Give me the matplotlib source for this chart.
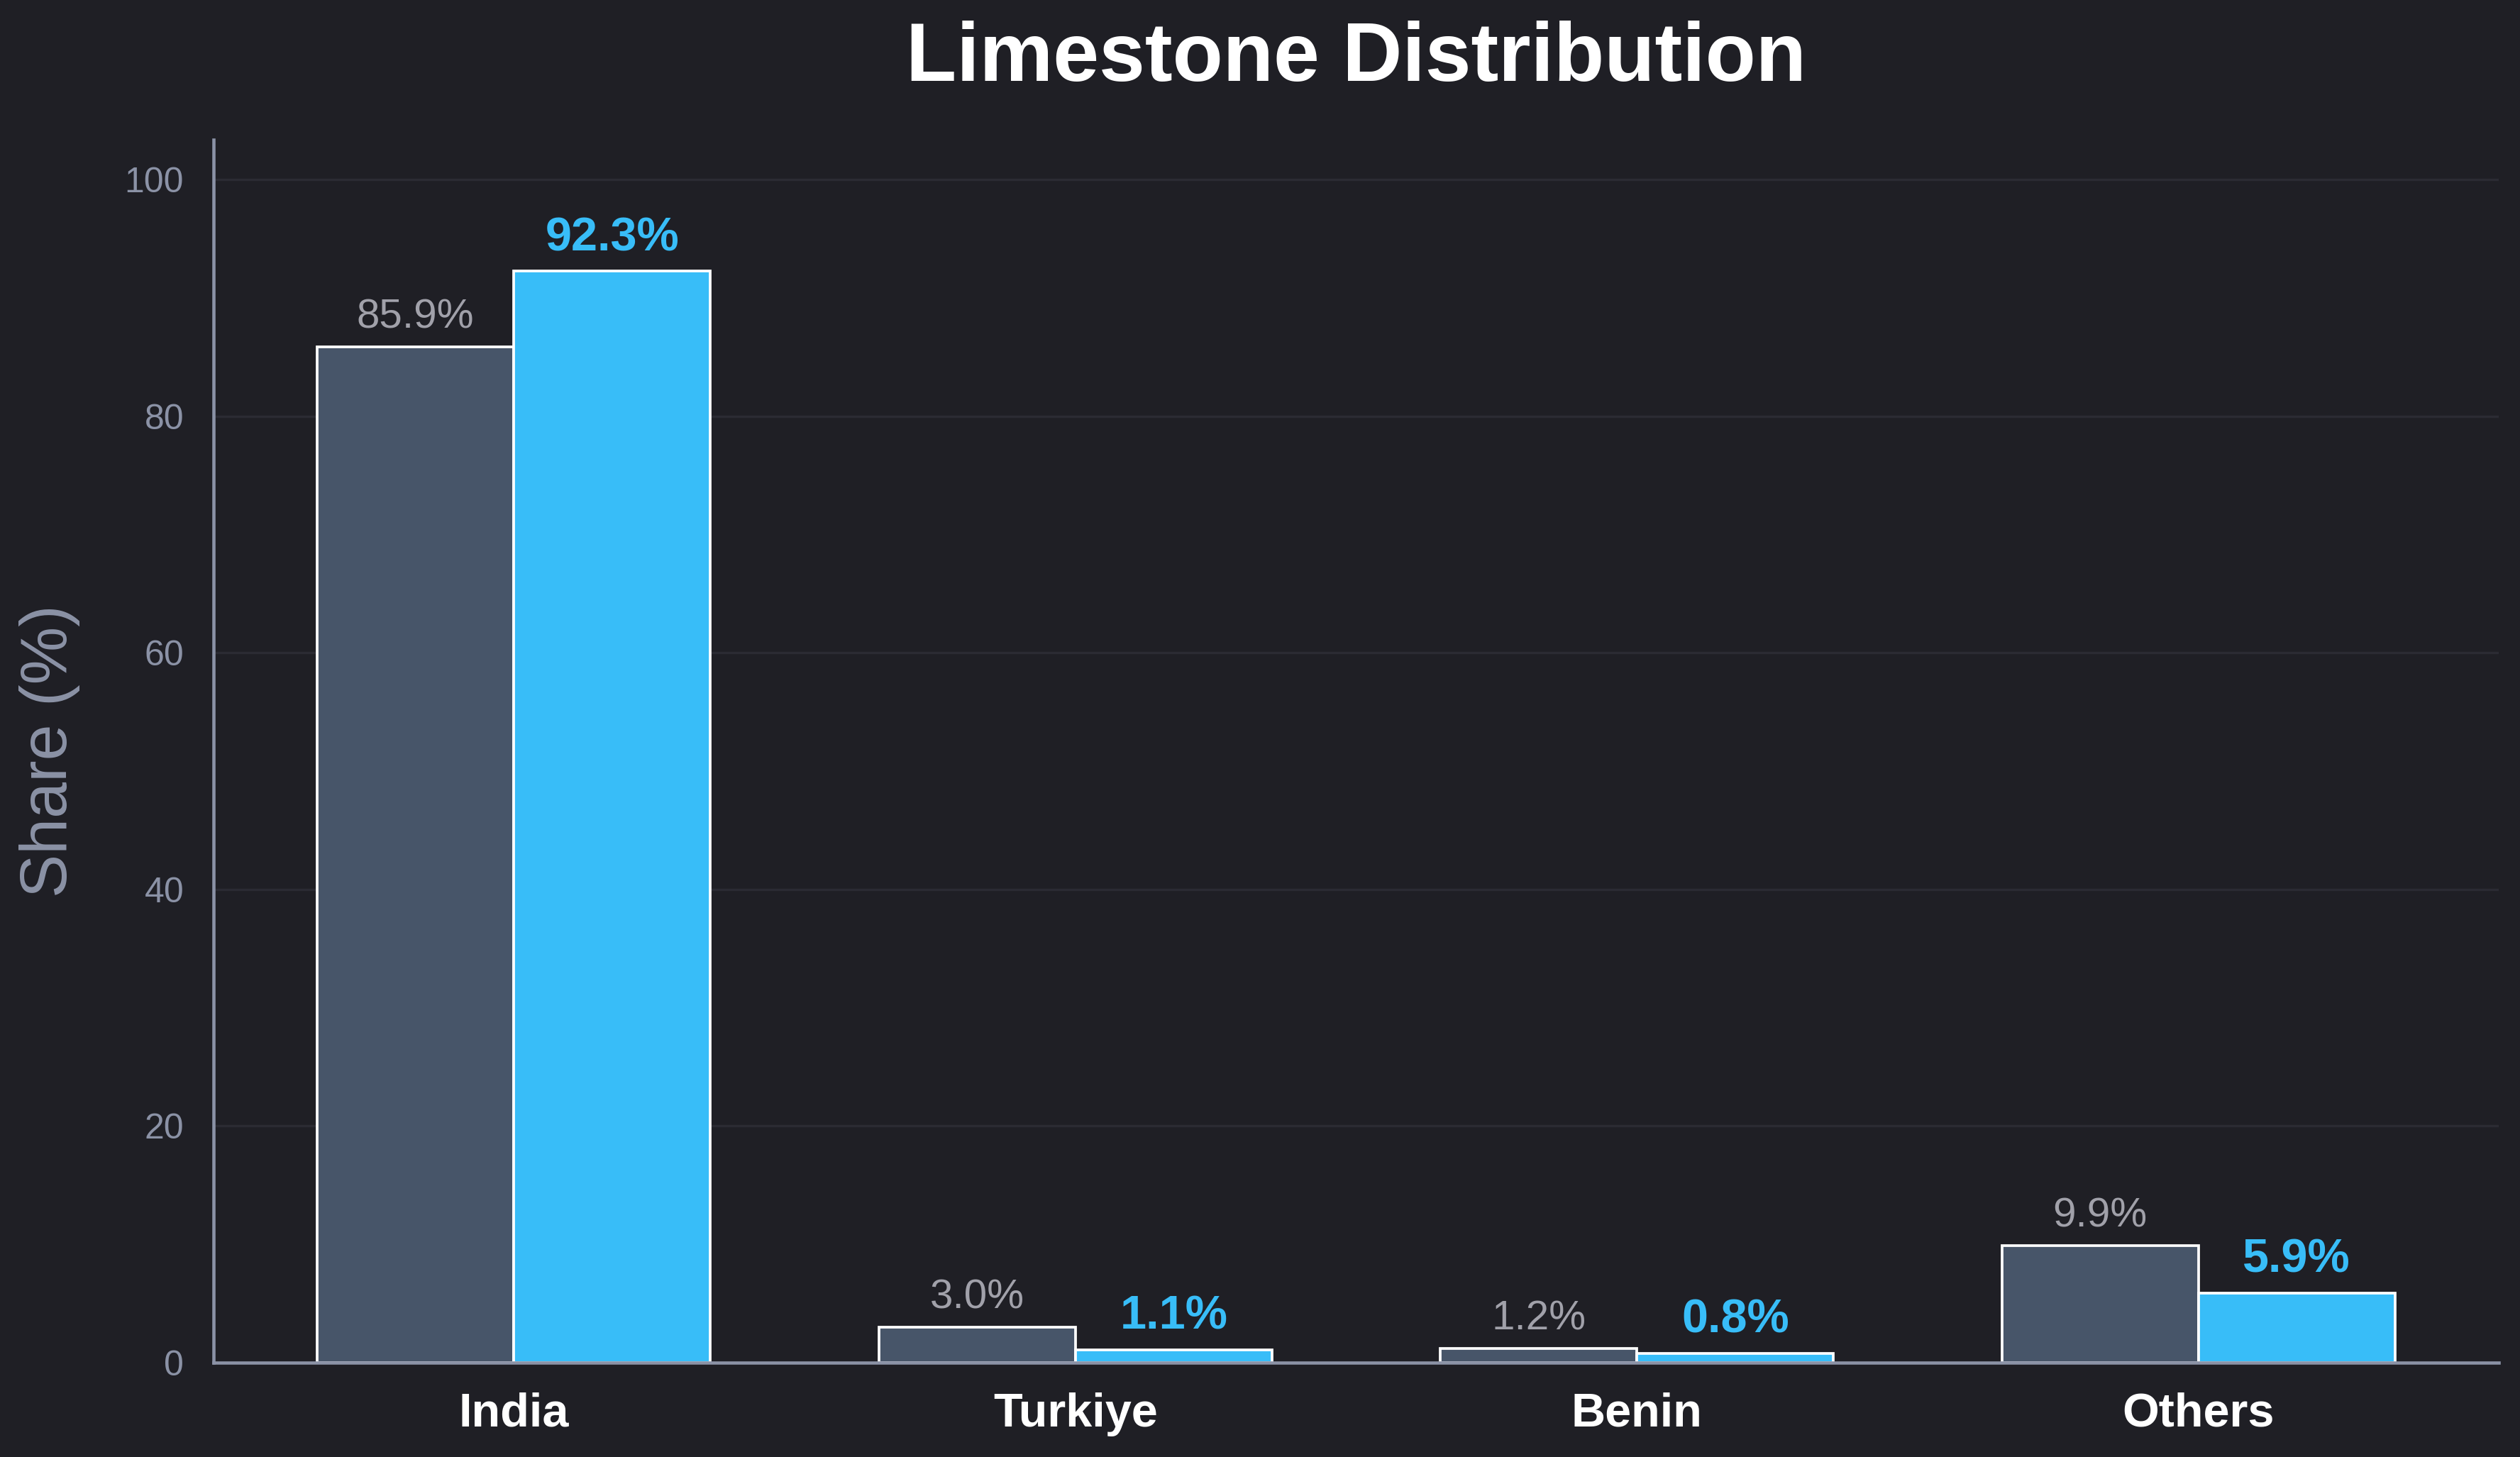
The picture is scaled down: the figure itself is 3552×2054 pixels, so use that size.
import matplotlib
matplotlib.use("Agg")
import matplotlib.pyplot as plt
import numpy as np

categories = ["India", "Turkiye", "Benin", "Others"]
series_a = [85.9, 3.0, 1.2, 9.9]   # dark bars
series_b = [92.3, 1.1, 0.8, 5.9]   # blue bars
yticks = [0, 20, 40, 60, 80, 100]

BG = "#1f1f25"
DARK = "#475569"
BLUE = "#38bdf8"
TICK = "#8b92a6"
LABEL_GRAY = "#a1a1aa"
GRID = "#2b2b33"

plt.rcParams['font.family'] = ['Liberation Sans', 'DejaVu Sans']

fig = plt.figure(figsize=(11.84, 6.8467), dpi=300, facecolor=BG)
ax = fig.add_axes([0.0847, 0.0648, 0.9916 - 0.0847, 0.904 - 0.0648])
ax.set_facecolor(BG)

x = np.arange(len(categories))
w = 0.35
bars_a = ax.bar(x - w / 2, series_a, w, color=DARK, edgecolor="white", linewidth=0.9, zorder=3)
bars_b = ax.bar(x + w / 2, series_b, w, color=BLUE, edgecolor="white", linewidth=0.9, zorder=3)

for b, v in zip(bars_a, series_a):
    ax.annotate(f"{v:.1f}%", (b.get_x() + b.get_width() / 2, v), xytext=(0, 3.5),
                textcoords="offset points", ha="center", va="bottom",
                fontsize=14, color=LABEL_GRAY)
for b, v in zip(bars_b, series_b):
    ax.annotate(f"{v:.1f}%", (b.get_x() + b.get_width() / 2, v), xytext=(0, 3.5),
                textcoords="offset points", ha="center", va="bottom",
                fontsize=16, fontweight="bold", color=BLUE)

ax.set_ylim(0, max(series_b) * 1.12)
ax.set_yticks(yticks)
ax.set_xticks(x)
ax.set_xticklabels(categories, fontsize=16, fontweight="bold", color="white")
ax.tick_params(axis="y", labelsize=12, colors=TICK, length=0, pad=10)
ax.tick_params(axis="x", length=0, pad=10)
for lab in ax.get_xticklabels():
    lab.set_color("white")

ax.set_ylabel("Share (%)", fontsize=22, color=TICK, labelpad=15)
ax.set_title("Limestone Distribution", fontsize=28, fontweight="bold", color="white", pad=20)

ax.grid(axis="y", color=GRID, linewidth=0.8, zorder=0)
ax.set_axisbelow(True)
for s in ["top", "right"]:
    ax.spines[s].set_visible(False)
for s in ["left", "bottom"]:
    ax.spines[s].set_color(TICK)
    ax.spines[s].set_linewidth(1.1)
    ax.spines[s].set_zorder(4)

fig.savefig("out.png", dpi=300, facecolor=BG)
